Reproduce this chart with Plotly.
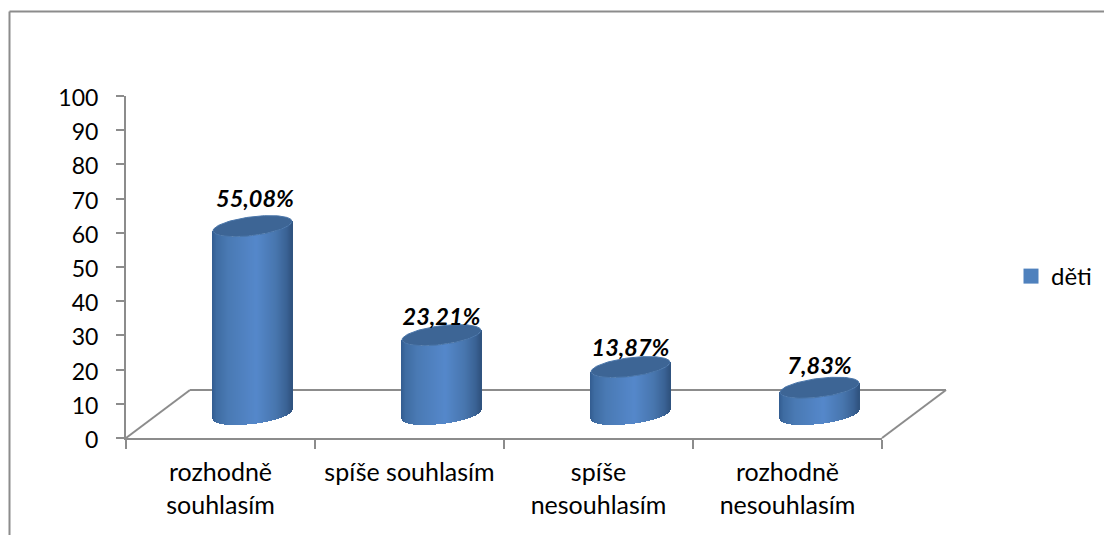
import numpy as np
import plotly.graph_objects as go

categories = ["rozhodně<br>souhlasím", "spíše souhlasím", "spíše<br>nesouhlasím", "rozhodně<br>nesouhlasím"]
values = [55.08, 23.21, 13.87, 7.83]
value_labels = ["55,08%", "23,21%", "13,87%", "7,83%"]
y_ticks = list(range(0, 101, 10))
series_name = "děti"

W, H = 1104, 535
PX_X, PX_Y = 189.0, 3.42          # pixels per x category / per y unit
AXIS = "#8c8c8c"
FONT = "Lato"
DEPTH_X, BASE_LIFT = 32 / PX_X, 23.5 / PX_Y
A, B, TILT = 39.5 / PX_X, 9.4 / PX_Y, 4.7 / PX_Y
label_lift_px = [25, 16, 17, 20]
label_shift_px = [2.5, 0, 0, 0]
stops_u = [-1.0, -0.9, -0.6, 0.1, 0.6, 0.88, 1.0]
stops_rgb = [(52, 94, 146), (62, 108, 162), (74, 122, 180), (85, 136, 203), (72, 118, 174), (58, 98, 148), (48, 84, 128)]


def shade(u):
    return "rgb(%d,%d,%d)" % tuple(np.interp(u, stops_u, [c[i] for c in stops_rgb]) for i in range(3))


fig = go.Figure()

us = np.linspace(-1, 1, 79)
for i, v in enumerate(values):
    cx = i + 0.5 + DEPTH_X
    top = BASE_LIFT + v
    fig.add_trace(go.Bar(
        x=cx + us * A,
        y=(top - BASE_LIFT) + 0 * us,
        base=BASE_LIFT + us * TILT - B * np.sqrt(1 - us ** 2),
        width=1 / PX_X,
        marker=dict(color=[shade(u) for u in us], line=dict(width=0)),
        showlegend=False, hoverinfo="skip"))
    t = np.linspace(0, 2 * np.pi, 121)
    fig.add_trace(go.Scatter(
        x=cx + A * np.cos(t), y=top + TILT * np.cos(t) + B * np.sin(t),
        mode="lines", fill="toself", fillcolor="#3d6595",
        line=dict(color="#4a76aa", width=1), showlegend=False, hoverinfo="skip"))

fig.add_trace(go.Scatter(
    x=[i + 0.5 + DEPTH_X + s / PX_X for i, s in enumerate(label_shift_px)],
    y=[BASE_LIFT + v + l / PX_Y for v, l in zip(values, label_lift_px)],
    text=value_labels, mode="text", textposition="middle center",
    textfont=dict(family=FONT, size=23.5, color="black", weight="bold", style="italic"),
    cliponaxis=False, showlegend=False, hoverinfo="skip"))

# legend entry
fig.add_trace(go.Scatter(
    x=[None], y=[None], mode="markers", name=series_name,
    marker=dict(symbol="square", size=15, color="#4f81bd")))


def px_line(x0, y0, x1, y1):
    return dict(type="line", xref="paper", yref="paper", layer="below",
                x0=x0 / W, x1=x1 / W, y0=1 - y0 / H, y1=1 - y1 / H,
                line=dict(color=AXIS, width=2))


fig.update_layout(
    width=W, height=H, autosize=False, margin=dict(l=0, r=0, t=0, b=0, autoexpand=False),
    paper_bgcolor="white", plot_bgcolor="rgba(0,0,0,0)", barmode="overlay", bargap=0,
    font=dict(family=FONT, size=23, color="black"),
    legend=dict(x=1011 / W, y=1 - 276.5 / H, xanchor="left", yanchor="middle",
                font=dict(size=24), bgcolor="rgba(0,0,0,0)", itemwidth=30),
    xaxis=dict(domain=[126 / W, 882 / W], range=[0, 4], tickmode="array",
               tickvals=[0.5, 1.5, 2.5, 3.5], ticktext=categories, ticks="", showgrid=False,
               showline=True, linecolor=AXIS, linewidth=2, zeroline=False, automargin=False,
               tickangle=0, ticklabelstandoff=11, tickfont=dict(size=25),
               minor=dict(tickmode="array", tickvals=[0, 1, 2, 3, 4], ticks="outside",
                          ticklen=9, tickwidth=2, tickcolor=AXIS, showgrid=False)),
    yaxis=dict(domain=[1 - 438 / H, 1 - 96 / H], range=[0, 100], tickmode="array",
               tickvals=y_ticks, ticks="outside", ticklen=8, tickwidth=2, tickcolor=AXIS,
               showgrid=False, showline=True, linecolor=AXIS, linewidth=2, zeroline=False,
               automargin=False, ticklabelstandoff=13, ticklabelshift=2),
    shapes=[
        px_line(9.5, 11.5, W, 11.5),
        px_line(9.5, 11.5, 9.5, H),
        px_line(126, 438, 190, 390),
        px_line(190, 390, 946, 390),
        px_line(946, 390, 882, 438),
    ],
)

fig.write_html("out.html", config=dict(displayModeBar=False),
               post_script="document.body.style.margin='0';document.body.style.overflow='hidden';")
